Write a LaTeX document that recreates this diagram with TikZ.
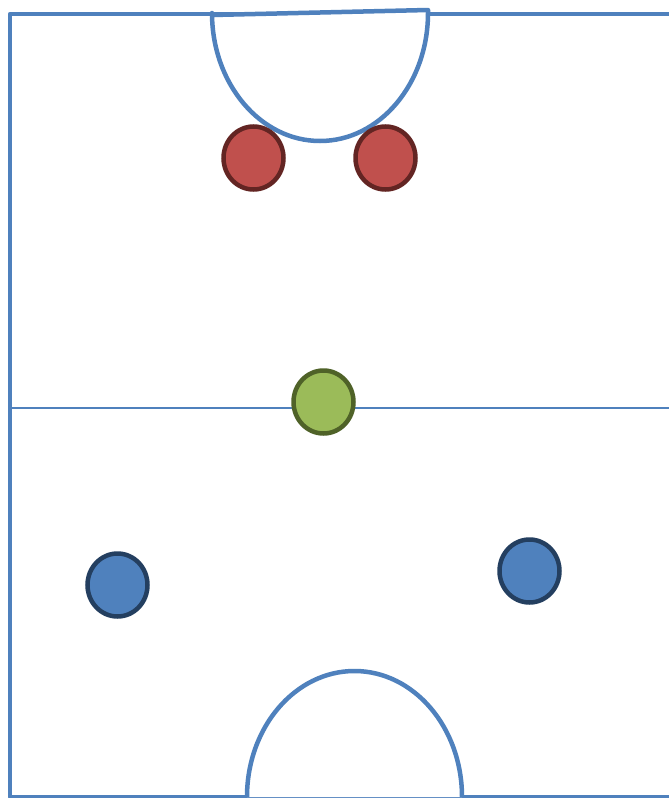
\documentclass[tikz,border=0pt]{standalone}
\usetikzlibrary{shapes.geometric}
\definecolor{fieldblue}{HTML}{4F81BD}
\definecolor{redfill}{HTML}{C0504D}
\definecolor{redline}{HTML}{632523}
\definecolor{greenfill}{HTML}{9BBB59}
\definecolor{greenline}{HTML}{4F6228}
\definecolor{bluefill}{HTML}{4F81BD}
\definecolor{blueline}{HTML}{243F60}
\begin{document}
\begin{tikzpicture}[x=1pt,y=-1pt,
  fieldline/.style={draw=fieldblue,line width=4.5pt,line join=round},
  player/.style={ellipse,minimum width=60pt,minimum height=63pt,line width=4.5pt,inner sep=0pt},
  redp/.style={player,draw=redline,fill=redfill},
  greenp/.style={player,draw=greenline,fill=greenfill},
  bluep/.style={player,draw=blueline,fill=bluefill}]
\useasboundingbox (0,0) rectangle (669,798);
\fill[white] (0,0) rectangle (669,798);
% field
\draw[fieldline] (700,14) -- (10,14) -- (10,797) -- (700,797);
\draw[draw=fieldblue,line width=1.8pt] (10,408) -- (700,408);
% top half circle
\draw[fieldline,fill=white] (212,15) -- (428,10) -- (428,13) arc[start angle=0,end angle=180,x radius=108,y radius=128] -- cycle;
% bottom half circle
\draw[fieldline,fill=white] (247,797) arc[start angle=180,end angle=360,x radius=107.5,y radius=126] ;
% players
\node[redp] (r1) at (253.5,158) {};
\node[redp] (r2) at (385.5,158) {};
\node[greenp] (g) at (323.5,402) {};
\node[bluep] (b1) at (117.5,585) {};
\node[bluep] (b2) at (529.5,571) {};
\end{tikzpicture}
\end{document}
